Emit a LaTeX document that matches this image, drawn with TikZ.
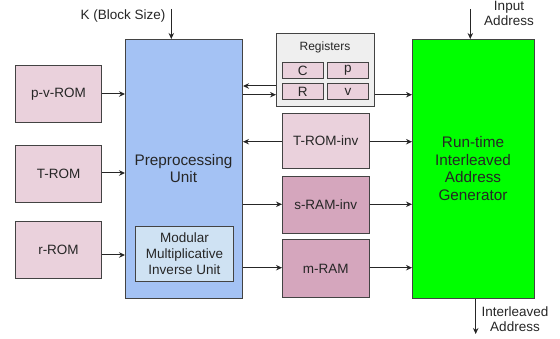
\documentclass[tikz,border=0pt]{standalone}
\usepackage{fontspec}
\setmainfont{Liberation Sans}
\usetikzlibrary{arrows.meta,calc}
\definecolor{pinkL}{HTML}{EAD1DC}
\definecolor{pinkD}{HTML}{D5A6BD}
\definecolor{blueP}{HTML}{A4C2F4}
\definecolor{blueL}{HTML}{CFE2F3}
\definecolor{grayR}{HTML}{EFEFEF}
\definecolor{greenR}{HTML}{00FF00}
\definecolor{edge}{HTML}{434343}
\definecolor{txt}{HTML}{262626}
\tikzset{
  box/.style={draw=edge, line width=1pt, anchor=north west, inner sep=0pt, align=center, text=txt, font=\fontsize{13.5}{16}\selectfont},
  bigtxt/.style={font=\fontsize{15.3}{17.8}\selectfont},
  cell/.style={box, fill=pinkL, font=\fontsize{13.5}{14}\selectfont},
  conn/.style={draw=txt, line width=1pt, -{Stealth[length=6pt,width=5.5pt]}},
  lbl/.style={text=txt, inner sep=0pt, align=center, font=\fontsize{13.5}{16}\selectfont}
}
\begin{document}
\begin{tikzpicture}[x=1pt,y=-1pt]
\useasboundingbox (0,0) rectangle (560,339);
% left ROMs
\node[box, fill=pinkL, minimum width=86pt, minimum height=57pt] (pv) at (15,65) {p-v-ROM};
\node[box, fill=pinkL, minimum width=86pt, minimum height=57pt] (trom) at (15,145) {T-ROM};
\node[box, fill=pinkL, minimum width=86pt, minimum height=57pt] (rrom) at (15,221) {r-ROM};
% preprocessing
\node[box, fill=blueP, minimum width=117pt, minimum height=259pt] (pre) at (125,39) {};
\node[lbl, bigtxt, anchor=center] (pretxt) at (183.5,168.5) {Preprocessing\\Unit};
\node[box, fill=blueL, minimum width=98pt, minimum height=55pt] (mmi) at (135,226) {Modular\\Multiplicative\\Inverse Unit};
% registers
\node[box, fill=grayR, minimum width=98pt, minimum height=73pt] (reg) at (276,33) {};
\node[lbl, anchor=center, font=\fontsize{12}{14}\selectfont] (regtxt) at (325,47) {Registers};
\node[cell, minimum width=40.5pt, minimum height=16.5pt] (C) at (282,62) {C};
\node[cell, minimum width=41pt, minimum height=16.5pt] (p) at (327,62) {p};
\node[cell, minimum width=40.5pt, minimum height=16pt] (R) at (282,83.5) {R};
\node[cell, minimum width=41pt, minimum height=16pt] (v) at (327,83.5) {v};
% middle memories
\node[box, fill=pinkL, minimum width=86.5pt, minimum height=55pt] (tinv) at (282,113) {T-ROM-inv};
\node[box, fill=pinkD, minimum width=86.5pt, minimum height=57pt] (sinv) at (282,176) {s-RAM-inv};
\node[box, fill=pinkD, minimum width=86.5pt, minimum height=58pt] (mram) at (282,239) {m-RAM};
% runtime generator
\node[box, fill=greenR, minimum width=122pt, minimum height=259pt] (rt) at (412,39) {};
\node[lbl, bigtxt, anchor=center] (rttxt) at (473,168.5) {Run-time\\Interleaved\\Address\\Generator};
% external labels
\coordinate (kin) at (171.3,9);
\coordinate (ain) at (470.3,9);
\coordinate (aout) at (475.7,334);
\node[lbl, anchor=east] (klbl) at (165.5,16) {K (Block Size)};
\node[lbl, anchor=center, font=\fontsize{13.5}{15.5}\selectfont] (ilbl) at (509,13.5) {Input\\Address};
\node[lbl, anchor=center, font=\fontsize{13.5}{15.5}\selectfont] (olbl) at (515,319) {Interleaved\\Address};
% connectors
\draw[conn] (kin) -- (kin |- pre.north);
\draw[conn] (ain) -- (ain |- rt.north);
\draw[conn] (aout |- rt.south) -- (aout);
\draw[conn] (pv.east |- 0,94) -- (pre.west |- 0,94);
\draw[conn] (trom.east |- 0,173) -- (pre.west |- 0,173);
\draw[conn] (rrom.east |- 0,255) -- (pre.west |- 0,255);
\draw[conn] (reg.west |- 0,86) -- (pre.east |- 0,86);
\draw[conn] (pre.east |- 0,94.7) -- (reg.west |- 0,94.7);
\draw[conn] (reg.east |- 0,94.7) -- (rt.west |- 0,94.7);
\draw[conn] (tinv.west |- 0,141.7) -- (pre.east |- 0,141.7);
\draw[conn] (tinv.east |- 0,141.7) -- (rt.west |- 0,141.7);
\draw[conn] (pre.east |- 0,204.3) -- (sinv.west |- 0,204.3);
\draw[conn] (sinv.east |- 0,204.3) -- (rt.west |- 0,204.3);
\draw[conn] (pre.east |- 0,267.7) -- (mram.west |- 0,267.7);
\draw[conn] (mram.east |- 0,267.7) -- (rt.west |- 0,267.7);
\end{tikzpicture}
\end{document}
